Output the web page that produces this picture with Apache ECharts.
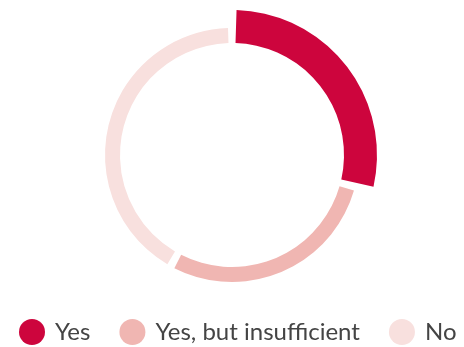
<!DOCTYPE html>
<html>
<head>
<meta charset="utf-8">
<script src="https://cdn.jsdelivr.net/npm/echarts@6/dist/echarts.min.js"></script>
<style>
  html, body { margin: 0; padding: 0; background: #fff; }
  #chart { width: 464px; height: 347px; }
</style>
</head>
<body>
<div id="chart"></div>
<script>
const categories = ["Yes", "Yes, but insufficient", "No"];
const shares = [29, 29, 42];
const colors = ["#cd053d", "#f0b6b2", "#f8e0de"];
const emphasised = "Yes";

const chart = echarts.init(document.getElementById("chart"));

// outer (thick) ring shows only the highlighted answer, inner ring the rest
const wideData = categories.map((name, i) => ({
  name,
  value: shares[i],
  itemStyle: { color: name === emphasised ? colors[i] : "rgba(0,0,0,0)" },
}));
const thinData = categories.map((name, i) => ({
  name,
  value: shares[i],
  itemStyle: { color: name === emphasised ? "rgba(0,0,0,0)" : colors[i] },
}));

const pieBase = {
  type: "pie",
  center: [232, 155],
  startAngle: 90,
  clockwise: true,
  padAngle: 3.6,
  silent: true,
  label: { show: false },
  labelLine: { show: false },
};

chart.setOption({
  animation: false,
  legend: {
    left: 19,
    top: 319,
    padding: 0,
    itemWidth: 26,
    itemHeight: 26,
    itemGap: 29,
    icon: "circle",
    selectedMode: false,
    textStyle: {
      fontFamily: "Lato",
      fontSize: 24,
      color: "#444",
      padding: [6, 0, 0, 5],
    },
    data: categories.map((name, i) => ({ name, itemStyle: { color: colors[i] } })),
  },
  series: [
    Object.assign({}, pieBase, { name: "wide", radius: [112, 145], data: wideData }),
    Object.assign({}, pieBase, { name: "thin", radius: [112, 127], data: thinData }),
  ],
});
</script>
</body>
</html>
